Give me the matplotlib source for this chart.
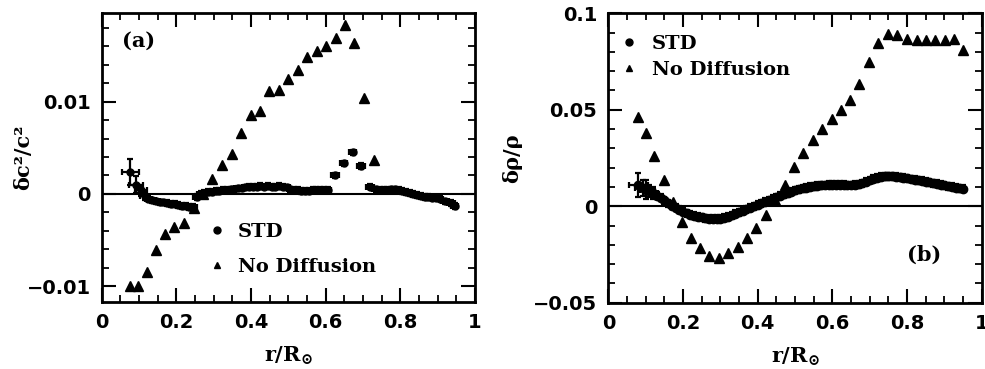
import matplotlib.pyplot as plt
from matplotlib.lines import Line2D
import numpy as np

plt.rcParams['font.family'] = ['DejaVu Sans']
plt.rcParams['font.weight'] = 'bold'
plt.rcParams['mathtext.fontset'] = 'dejavuserif'

# ---- panel (a): sound speed difference ----
std_a_r = [0.077, 0.092, 0.105, 0.115, 0.125, 0.135, 0.145, 0.155, 0.165, 0.175,
           0.185, 0.195, 0.205, 0.215, 0.225, 0.235, 0.245, 0.255, 0.265, 0.275,
           0.285, 0.295, 0.305, 0.315, 0.325, 0.335, 0.345, 0.355, 0.365, 0.375,
           0.385, 0.395, 0.405, 0.415, 0.425, 0.435, 0.445, 0.455, 0.465, 0.475,
           0.485, 0.495, 0.505, 0.515, 0.525, 0.535, 0.545, 0.555, 0.565, 0.575,
           0.585, 0.595, 0.605, 0.625, 0.648, 0.672, 0.695, 0.718, 0.735, 0.745,
           0.755, 0.765, 0.775, 0.785, 0.795, 0.805, 0.815, 0.825, 0.835, 0.845,
           0.855, 0.865, 0.875, 0.885, 0.895, 0.905, 0.920, 0.935, 0.945]
std_a_dc2 = [0.0024, 0.0010, 0.0004, -0.0002, -0.0005, -0.0007, -0.0008, -0.0009, -0.0009, -0.0010,
             -0.0011, -0.0011, -0.0012, -0.0013, -0.0013, -0.0014, -0.0014, -0.0003, 0.0000, 0.0001,
             0.0002, 0.0002, 0.0003, 0.0003, 0.0004, 0.0004, 0.0005, 0.0005, 0.0006, 0.0006,
             0.0007, 0.0008, 0.0008, 0.0008, 0.0009, 0.0008, 0.0009, 0.0008, 0.0008, 0.0009,
             0.0008, 0.0007, 0.0005, 0.0004, 0.0004, 0.0003, 0.0003, 0.0003, 0.0004, 0.0004,
             0.0004, 0.0004, 0.0004, 0.0020, 0.0033, 0.0045, 0.0030, 0.0008, 0.0005, 0.0004,
             0.0004, 0.0004, 0.0005, 0.0005, 0.0004, 0.0003, 0.0002, 0.0001, 0.0000, -0.0001,
             -0.0002, -0.0003, -0.0003, -0.0004, -0.0004, -0.0005, -0.0008, -0.0010, -0.0013]
std_a_xerr_head = [0.022, 0.018, 0.015, 0.012]
std_a_yerr_head = [0.0014, 0.0009, 0.0006, 0.0004]

nodiff_a_r = [0.075, 0.096, 0.120, 0.146, 0.170, 0.194, 0.220, 0.246, 0.271, 0.296,
              0.322, 0.348, 0.373, 0.399, 0.424, 0.449, 0.474, 0.499, 0.525, 0.550,
              0.576, 0.601, 0.627, 0.652, 0.677, 0.703, 0.729]
nodiff_a_dc2 = [-0.0100, -0.0100, -0.0085, -0.0061, -0.0043, -0.0036, -0.0031, -0.0015, 0.0000, 0.0016,
                0.0031, 0.0043, 0.0066, 0.0086, 0.0090, 0.0112, 0.0113, 0.0124, 0.0134, 0.0148,
                0.0155, 0.0160, 0.0169, 0.0183, 0.0164, 0.0104, 0.0037]

# ---- panel (b): density difference ----
std_b_r = [0.080, 0.092, 0.100, 0.110, 0.120, 0.130, 0.140, 0.150, 0.160, 0.170,
           0.180, 0.190, 0.200, 0.210, 0.220, 0.230, 0.240, 0.250, 0.260, 0.270,
           0.280, 0.290, 0.300, 0.310, 0.320, 0.330, 0.340, 0.350, 0.360, 0.370,
           0.380, 0.390, 0.400, 0.410, 0.420, 0.430, 0.440, 0.450, 0.460, 0.470,
           0.480, 0.490, 0.500, 0.510, 0.520, 0.530, 0.540, 0.550, 0.560, 0.570,
           0.580, 0.590, 0.600, 0.610, 0.620, 0.630, 0.640, 0.650, 0.660, 0.670,
           0.680, 0.690, 0.700, 0.710, 0.720, 0.730, 0.740, 0.750, 0.760, 0.770,
           0.780, 0.790, 0.800, 0.810, 0.820, 0.830, 0.840, 0.850, 0.860, 0.870,
           0.880, 0.890, 0.900, 0.910, 0.920, 0.930, 0.940, 0.950]
std_b_drho = [0.0110, 0.0095, 0.0085, 0.0080, 0.0070, 0.0055, 0.0045, 0.0030, 0.0015, 0.0003,
              -0.0008, -0.0018, -0.0028, -0.0036, -0.0044, -0.0050, -0.0055, -0.0058, -0.0062, -0.0064,
              -0.0066, -0.0066, -0.0064, -0.0060, -0.0054, -0.0047, -0.0040, -0.0032, -0.0024, -0.0016,
              -0.0008, 0.0000, 0.0008, 0.0016, 0.0024, 0.0032, 0.0040, 0.0047, 0.0054, 0.0061,
              0.0068, 0.0075, 0.0082, 0.0088, 0.0093, 0.0097, 0.0100, 0.0103, 0.0106, 0.0108,
              0.0110, 0.0111, 0.0112, 0.0112, 0.0112, 0.0111, 0.0110, 0.0110, 0.0111, 0.0114,
              0.0120, 0.0128, 0.0136, 0.0143, 0.0148, 0.0152, 0.0155, 0.0156, 0.0155, 0.0153,
              0.0150, 0.0147, 0.0144, 0.0141, 0.0138, 0.0135, 0.0131, 0.0128, 0.0124, 0.0120,
              0.0116, 0.0112, 0.0108, 0.0104, 0.0100, 0.0097, 0.0094, 0.0091]
std_b_xerr_head = [0.025, 0.020, 0.015, 0.015, 0.012]
std_b_yerr_head = [0.0060, 0.0040, 0.0050, 0.0030, 0.0030]

nodiff_b_r = [0.080, 0.101, 0.123, 0.149, 0.172, 0.197, 0.221, 0.246, 0.270, 0.296,
              0.321, 0.347, 0.371, 0.396, 0.422, 0.447, 0.473, 0.497, 0.522, 0.547,
              0.573, 0.598, 0.622, 0.647, 0.672, 0.698, 0.723, 0.748, 0.772, 0.799,
              0.826, 0.850, 0.875, 0.902, 0.927, 0.951]
nodiff_b_drho = [0.0462, 0.0377, 0.0261, 0.0137, 0.0020, -0.0082, -0.0163, -0.0217, -0.0260, -0.0267,
                 -0.0243, -0.0211, -0.0163, -0.0111, -0.0048, 0.0030, 0.0111, 0.0201, 0.0274, 0.0343,
                 0.0398, 0.0451, 0.0497, 0.0552, 0.0634, 0.0750, 0.0848, 0.0891, 0.0886, 0.0865,
                 0.0860, 0.0860, 0.0860, 0.0863, 0.0865, 0.0809]

xticks = [0, 0.2, 0.4, 0.6, 0.8, 1]
xticklabels = ['0', '0.2', '0.4', '0.6', '0.8', '1']


def errs(n, head, rest):
    e = np.full(n, rest)
    e[:len(head)] = head
    return e


def style(ax):
    for s in ax.spines.values():
        s.set_linewidth(2)
    ax.set_xlim(0, 1)
    ax.set_xticks(xticks)
    ax.set_xticklabels(xticklabels)
    ax.set_xticks(np.arange(0, 1.001, 0.05), minor=True)
    ax.tick_params(which='both', direction='in', top=True, right=True, labelsize=14, pad=8)
    ax.tick_params(which='major', length=10, width=1.5)
    ax.tick_params(which='minor', length=5, width=1.3)
    ax.axhline(0, color='k', lw=1.5, zorder=1)
    ax.set_xlabel(r'$\mathbf{r/R}_{\odot}$', fontsize=15, labelpad=9)


fig = plt.figure(figsize=(9.85, 3.69), dpi=100)
ax1 = fig.add_axes([0.1033, 0.1816, 0.379, 0.7832])
ax2 = fig.add_axes([0.6176, 0.1797, 0.3791, 0.7843])

eb = dict(fmt='o', color='k', ecolor='k', elinewidth=1.6, capsize=2.5, capthick=1.6, zorder=3)

# panel (a)
ax1.errorbar(std_a_r, std_a_dc2,
             xerr=errs(len(std_a_r), std_a_xerr_head, 0.010),
             yerr=errs(len(std_a_r), std_a_yerr_head, 0.0003), ms=5, **eb)
ax1.plot(nodiff_a_r, nodiff_a_dc2, '^', color='k', ms=6.5, zorder=4)
style(ax1)
ax1.set_ylim(-0.0117, 0.0196)
ax1.set_yticks([-0.01, 0, 0.01])
ax1.set_yticklabels(['\u22120.01', '0', '0.01'])
ax1.set_yticks(np.arange(-0.010, 0.0195, 0.002), minor=True)
ax1.set_ylabel('δc²/c²', family='DejaVu Serif', weight='bold', fontsize=15)
ax1.yaxis.set_label_coords(-0.184, 0.5)
ax1.text(0.055, 0.905, '(a)', transform=ax1.transAxes, family='DejaVu Serif',
         weight='bold', fontsize=15, va='center', ha='left')

# panel (b)
ax2.errorbar(std_b_r, std_b_drho,
             xerr=errs(len(std_b_r), std_b_xerr_head, 0.007),
             yerr=errs(len(std_b_r), std_b_yerr_head, 0.0018), ms=6, **eb)
ax2.plot(nodiff_b_r, nodiff_b_drho, '^', color='k', ms=6.5, zorder=4)
style(ax2)
ax2.set_ylim(-0.05, 0.1)
ax2.set_yticks([-0.05, 0, 0.05, 0.1])
ax2.set_yticklabels(['\u22120.05', '0', '0.05', '0.1'])
ax2.set_yticks(np.arange(-0.05, 0.1001, 0.01), minor=True)
ax2.set_ylabel('δρ/ρ', family='DejaVu Serif', weight='bold', fontsize=15)
ax2.yaxis.set_label_coords(-0.231, 0.5)
ax2.text(0.80, 0.165, '(b)', transform=ax2.transAxes, family='DejaVu Serif',
         weight='bold', fontsize=15, va='center', ha='left')

handles = [Line2D([], [], marker='o', ls='none', color='k', ms=5),
           Line2D([], [], marker='^', ls='none', color='k', ms=5)]
labels = ['STD', 'No Diffusion']
legend_font = {'family': 'DejaVu Serif', 'weight': 'bold', 'size': 14}
ax1.legend(handles, labels, loc='center left', bbox_to_anchor=(0.282, 0.182),
           frameon=False, borderpad=0, borderaxespad=0, handlelength=1.0,
           handletextpad=0.58, labelspacing=0.9, prop=legend_font)
ax2.legend(handles, labels, loc='center left', bbox_to_anchor=(0.028, 0.849),
           frameon=False, borderpad=0, borderaxespad=0, handlelength=1.0,
           handletextpad=0.7, labelspacing=0.38, prop=legend_font)

fig.savefig('out.png', dpi=100, facecolor='white')
